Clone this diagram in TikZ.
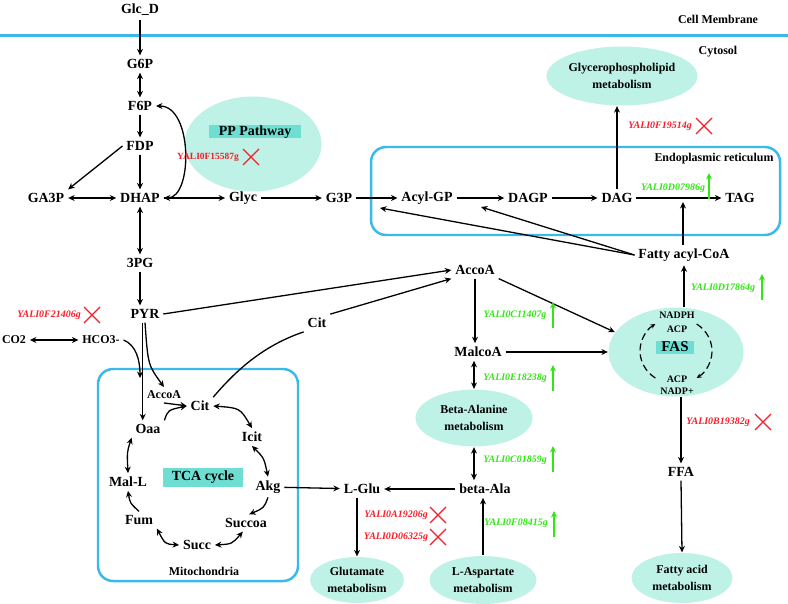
\documentclass[tikz,border=0pt]{standalone}
\usepackage{fontspec}
\setmainfont{Liberation Serif}
\usetikzlibrary{shapes.geometric, arrows.meta}

\definecolor{cyanline}{RGB}{60,185,235}
\definecolor{poolfill}{RGB}{190,242,230}
\definecolor{tagfill}{RGB}{110,222,210}
\definecolor{kored}{RGB}{245,30,40}
\definecolor{upgreen}{RGB}{50,230,20}

\tikzset{
    kox/.pic={\draw[kored, line width=1.2pt] (-8,-8) -- (8,8) (-8,8) -- (8,-8);},
    upx/.pic={\draw[upgreen, line width=1.3pt, ->] (0,13) -- (0,-13);}
}

\begin{document}
\begin{tikzpicture}[
    x=1bp, y=-1bp,
    line width=1.3pt,
    >={Stealth[length=6.5pt,width=6pt]},
    met/.style={font=\fontsize{14}{16}\selectfont\bfseries},
    small/.style={font=\fontsize{12}{14}\selectfont\bfseries},
    tiny/.style={font=\fontsize{10}{12}\selectfont\bfseries, inner sep=1pt},
    pool/.style={ellipse, fill=poolfill, align=center, inner sep=0pt,
        font=\fontsize{12}{17}\selectfont\bfseries},
    tagbox/.style={fill=tagfill, inner sep=0pt, font=\fontsize{14}{16}\selectfont\bfseries},
    gko/.style={text=kored, font=\fontsize{10}{12}\selectfont\bfseries\itshape},
    gup/.style={text=upgreen, font=\fontsize{10}{12}\selectfont\bfseries\itshape},
    organelle/.style={draw=cyanline, line width=2.5pt, rounded corners=15bp},
    fasloop/.style={dash pattern=on 7bp off 4bp, line width=1.2pt,
        -{Stealth[length=5pt,width=4.5pt]}}
]
\useasboundingbox (0,0) rectangle (788,604);

% Compartments
\draw[cyanline, line width=3bp] (0,36) -- (788,36);
\node[small] (cellmem) at (718,19) {Cell Membrane};
\node[small] (cytosol) at (718,52) {Cytosol};
\draw[organelle] (371,147) rectangle (780,235);
\node[small] (erlabel) at (714,159) {Endoplasmic reticulum};
\draw[organelle] (98,369) rectangle (298,581);
\node[small] (mitolabel) at (204,571) {Mitochondria};

% Pools
\node[pool, minimum width=137bp, minimum height=95bp] (pp) at (253,144) {};
\node[tagbox, minimum width=92bp, minimum height=13bp] (pplabel) at (255,132) {PP Pathway};
\node[pool, minimum width=133bp, minimum height=59bp] (glycero) at (622,76) {Glycerophospholipid\\metabolism};
\node[pool, minimum width=135bp, minimum height=89bp] (fas) at (676,352) {};
\node[pool, minimum width=117bp, minimum height=57bp] (bam) at (474,418) {Beta-Alanine\\metabolism};
\node[pool, minimum width=94bp, minimum height=46bp] (glut) at (357,580) {Glutamate\\metabolism};
\node[pool, minimum width=107bp, minimum height=48bp] (lasp) at (483,580) {L-Aspartate\\metabolism};
\node[pool, minimum width=101bp, minimum height=50bp] (fam) at (682,578) {Fatty acid\\metabolism};

% Glycolysis
\node[met] (glcd) at (140,10) {Glc\_D};
\node[met] (g6p) at (140,64) {G6P};
\node[met] (f6p) at (140,106) {F6P};
\node[met] (fdp) at (140,146) {FDP};
\node[met] (ga3p) at (46,198) {GA3P};
\node[met] (dhap) at (140,198) {DHAP};
\node[met] (glyc) at (243,198) {Glyc};
\node[met] (g3p) at (339,198) {G3P};
\node[met] (pg3) at (140,263) {3PG};
\node[met] (pyr) at (145,314) {PYR};
\node[small] (co2) at (14,340) {CO2};
\node[small] (hco3) at (101,340) {HCO3-};
\node[met] (cit) at (317,323) {Cit};

% Lipids
\node[met] (acylgp) at (427,198) {Acyl-GP};
\node[met] (dagp) at (528,198) {DAGP};
\node[met] (dag) at (617,198) {DAG};
\node[met] (tag) at (740,198) {TAG};
\node[met] (facoa) at (684,255) {Fatty acyl-CoA};
\node[met] (accoa) at (475,270) {AccoA};
\node[met] (malcoa) at (478,352) {MalcoA};
\node[met] (betaala) at (485,489) {beta-Ala};
\node[met] (lglu) at (362,489) {L-Glu};
\node[met] (ffa) at (681,472) {FFA};

% FAS
\coordinate (fasmid) at (676,351);
\node[tiny] (nadph) at (677,315) {NADPH};
\node[tiny] (acp1) at (677,329) {ACP};
\node[tagbox, minimum width=38bp, minimum height=13bp, font=\fontsize{15}{16}\selectfont\bfseries] (faslabel) at (675,347) {FAS};
\node[tiny] (acp2) at (677,379) {ACP};
\node[tiny] (nadp) at (677,391) {NADP+};
\draw[fasloop] ([shift={(125:36 and 33)}]fasmid) arc[start angle=125, end angle=235, x radius=36, y radius=33];
\draw[fasloop] ([shift={(-55:36 and 33)}]fasmid) arc[start angle=-55, end angle=55, x radius=36, y radius=33];

% TCA cycle
\node[tagbox, minimum width=80bp, minimum height=19bp] (tcalabel) at (203,477) {TCA cycle};
\node[met] (tcacit) at (200,406) {Cit};
\node[small] (mitaccoa) at (164,395) {AccoA};
\node[met] (icit) at (252,437) {Icit};
\node[met] (akg) at (268,487) {Akg};
\node[met] (succoa) at (246,523) {Succoa};
\node[met] (succ) at (197,545) {Succ};
\node[met] (fum) at (139,520) {Fum};
\node[met] (mall) at (128,482) {Mal-L};
\node[met] (oaa) at (148,429) {Oaa};

% Glycolysis transitions
\draw[->] (glcd) -- (g6p);
\draw[<->] (g6p) -- (f6p);
\draw[->] (f6p) -- (fdp);
\draw[->] (fdp) -- (dhap);
\draw[->] (fdp.west) -- (ga3p.north east);
\draw[<->] (ga3p) -- (dhap);
\draw[<->] (dhap.east) .. controls (193,198) and (193,106) .. (f6p.east);
\draw[->] (dhap) -- (glyc);
\draw[->] (glyc) -- (g3p);
\draw[<->] (dhap) -- (pg3);
\draw[->] (pg3.south) -- (pg3.south |- pyr.north);

% Lipid transitions
\coordinate (acylin) at (380,208);
\coordinate (dagpin) at (481,207);
\coordinate (tagin) at (683,202);
\draw[->] (g3p) -- (acylgp);
\draw[->] (acylgp) -- (dagp);
\draw[->] (dagp) -- (dag);
\draw[->] (dag) -- (tag);
\draw[->] (dag.north) -- (dag.north |- glycero.south);
\draw[->] (facoa.north -| tagin) -- (tagin);
\draw[->] (facoa.west) -- (acylin);
\draw[->] (facoa.west) -- (dagpin);
\draw[->] (facoa.south |- fas.north) -- (facoa.south);

% Acetyl-CoA and FAS transitions
\draw[->] (pyr.east) -- (accoa.west);
\draw[->] (cit.north east) -- (accoa.south west);
\draw[->] (accoa.south) -- (accoa.south |- malcoa.north);
\draw[->] (accoa.south east) -- (fas.162);
\draw[->] (malcoa.east) -- (fas.west);
\draw[<->] (bam.north |- malcoa.south) -- (bam.north);
\draw[<->] (bam.south) -- (bam.south |- betaala.north);
\draw[->] (lasp.north) -- (lasp.north |- betaala.south);
\draw[->] (betaala) -- (lglu);
\draw[->] (akg) -- (lglu);
\draw[->] (glut.north |- lglu.south) -- (glut.north);
\draw[->] (ffa.north |- fas.south) -- (ffa.north);
\draw[->] (ffa.south) -- (fam.north);

% Into mitochondria
\coordinate (hcojoin) at (140,378);
\draw[<->] (co2) -- (hco3);
\draw[->] (hco3.east) .. controls (136,345) and (140,360) .. (hcojoin);
\draw[->] (pyr.255) -- (pyr.255 |- oaa.north);
\draw[->] (pyr.south) .. controls (148,365) .. (mitaccoa.north);
\draw (tcacit.north east) .. controls (238,368) and (265,345) .. (cit.south west);

% TCA transitions
\draw[->] (mitaccoa.south) .. controls (174,404) .. (tcacit.west);
\draw[->] (oaa.north east) .. controls (168,410) .. (tcacit.west);
\draw[<->] (tcacit.east) .. controls (240,408) .. (icit.north);
\draw[<->] (icit.south) .. controls (264,458) .. (akg.north);
\draw[->] (akg.south) .. controls (264,508) .. (succoa.70);
\draw[<->] (succoa.250) .. controls (232,544) .. (succ.east);
\draw[<->] (succ.west) .. controls (165,544) .. (fum.south east);
\draw[->] (fum.north) .. controls (130,503) .. (mall.south);
\draw[<->] (mall.north) .. controls (127,452) .. (oaa.south west);

% Genes
\node[text=kored, font=\fontsize{9.5}{11}\selectfont\bfseries] (g15587) at (208,157) {YALI0F15587g};
\node[gko] (g19514) at (660,126) {YALI0F19514g};
\node[gup] (g07986) at (673,188) {YALI0D07986g};
\node[gup] (g17864) at (723,288) {YALI0D17864g};
\node[gup] (g11407) at (515,315) {YALI0C11407g};
\node[gup] (g18238) at (515,378) {YALI0E18238g};
\node[gup] (g01859) at (515,460) {YALI0C01859g};
\node[gup] (g08415) at (516,523) {YALI0F08415g};
\node[gko] (g19382) at (718,422) {YALI0B19382g};
\node[gko] (g19206) at (396,515) {YALI0A19206g};
\node[gko] (g06325) at (396,537) {YALI0D06325g};
\node[gko] (g21406) at (49,315) {YALI0F21406g};

% Knock-outs and up-regulations
\pic at (251,157) {kox};
\pic at (704,126) {kox};
\pic at (763,422) {kox};
\pic at (438,515) {kox};
\pic at (438,537) {kox};
\pic at (92,315) {kox};
\pic at (709,186) {upx};
\pic at (762,287) {upx};
\pic at (553,315) {upx};
\pic at (553,378) {upx};
\pic at (553,459) {upx};
\pic at (554,524) {upx};

\end{tikzpicture}
\end{document}
